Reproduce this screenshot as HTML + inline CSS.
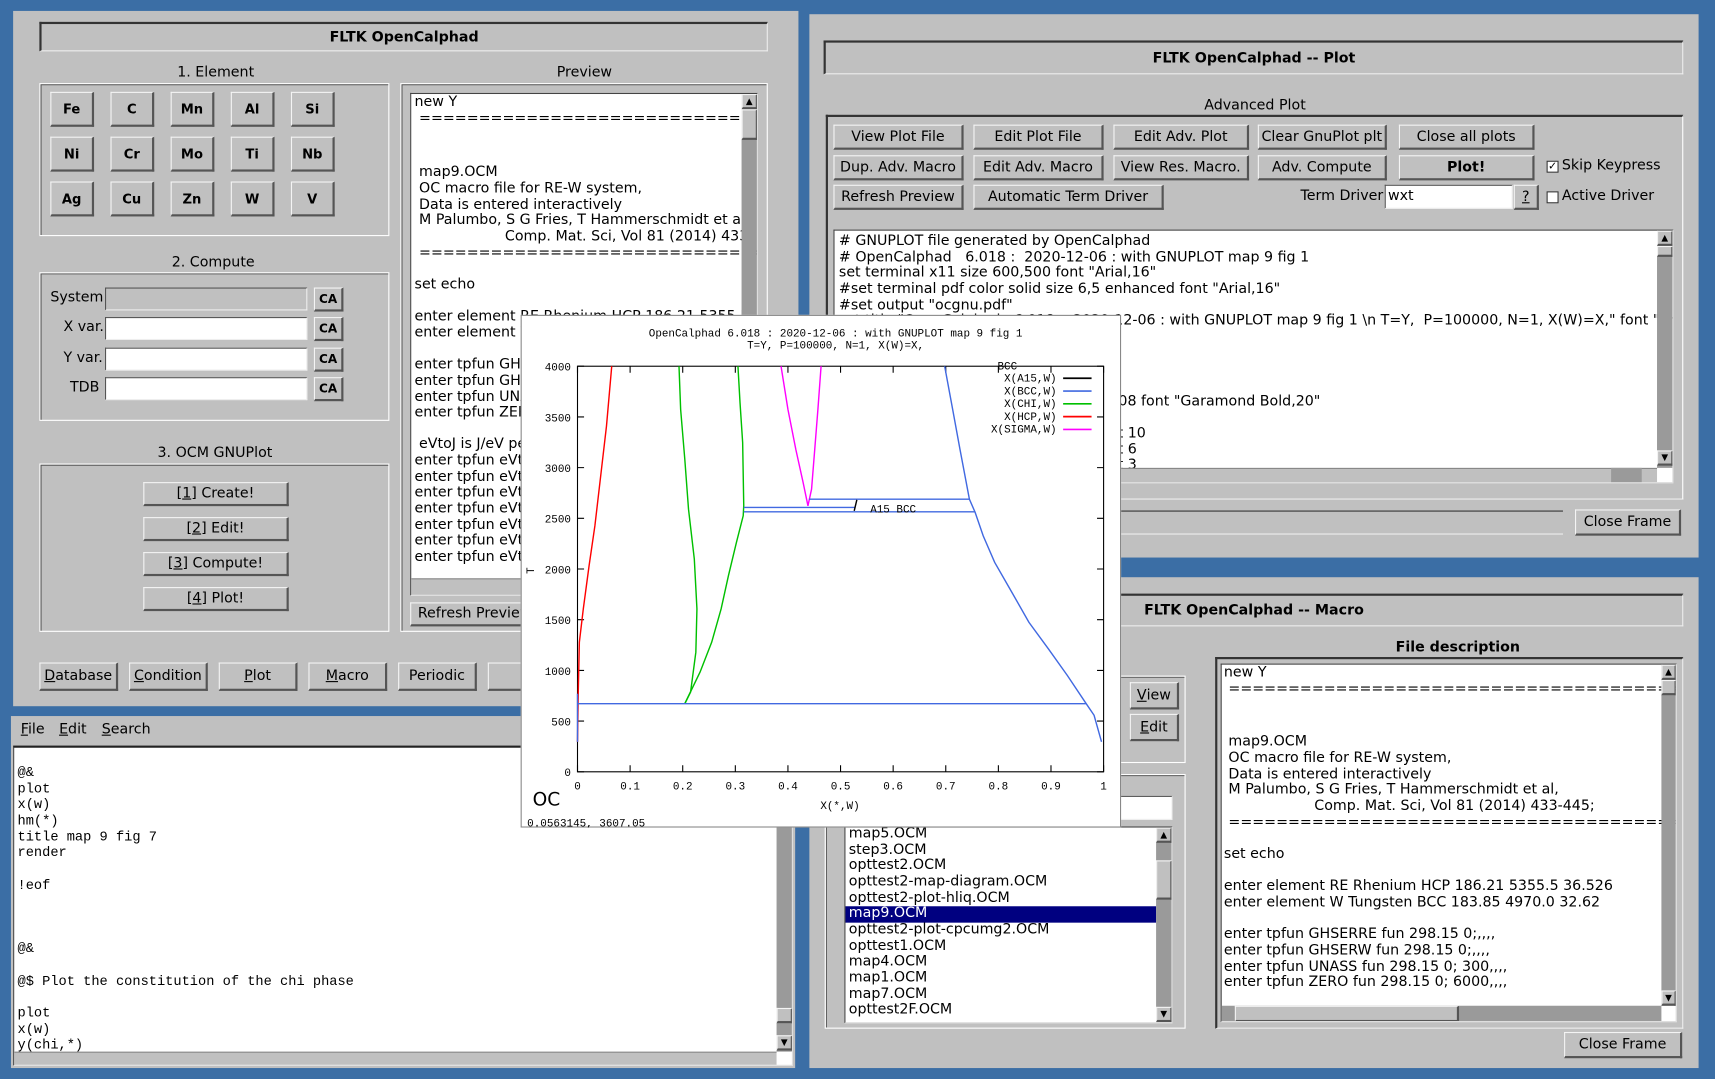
<!DOCTYPE html>
<html><head><meta charset="utf-8">
<style>
html,body{margin:0;padding:0;width:1715px;height:1079px;overflow:hidden;background:#3b6ea5;}
#root{position:absolute;left:0;top:0;width:1568px;height:987px;transform:scale(1.09375,1.0932);transform-origin:0 0;font-family:"DejaVu Sans","Liberation Sans",sans-serif;font-size:13px;color:#000;}
.a{position:absolute;box-sizing:border-box;}
.win{background:#c0c0c0;}
.btn{background:#c0c0c0;border-top:1px solid #f4f4f4;border-left:1px solid #f4f4f4;border-right:2px solid #555;border-bottom:2px solid #555;display:flex;align-items:center;justify-content:center;white-space:nowrap;font-size:13px;}
.grp{border:1px solid #fff;box-shadow:inset 1px 1px 0 #555;}
.box{border-top:2px solid #333;border-left:2px solid #333;border-right:1px solid #eee;border-bottom:1px solid #eee;}
.ta{background:#fff;border-top:1px solid #444;border-left:1px solid #444;border-right:1px solid #ddd;border-bottom:1px solid #ddd;overflow:hidden;}
.ta pre{margin:0;font-family:"DejaVu Sans","Liberation Sans",sans-serif;font-size:13px;line-height:14.65px;white-space:pre;}
.mono pre{font-family:"Liberation Mono","DejaVu Sans Mono",monospace;font-size:12.5px;}
.sb{background:#9a9a9a;}
.lbl{position:absolute;white-space:nowrap;}
.b{font-weight:bold;}
.inp{background:#fff;border-top:1px solid #555;border-left:1px solid #555;border-right:1px solid #eee;border-bottom:1px solid #eee;}
u{text-decoration:underline;}
.chk{position:absolute;width:11px;height:11px;background:#fff;border:1px solid #333;box-sizing:border-box;font-size:10px;line-height:9px;text-align:center;}
</style></head>
<body>
<div id="root">

<!-- MAIN WINDOW -->
<div class="a win" style="left:12px;top:10px;width:718px;height:636px;">
  <div class="a box" style="left:24px;top:10px;width:666px;height:27px;display:flex;align-items:center;justify-content:center;"><span class="b" style="font-size:13px;">FLTK OpenCalphad</span></div>
  <div class="lbl" style="left:150px;top:49px;">1. Element</div>
  <div class="a grp" style="left:24px;top:66px;width:320px;height:140px;"></div>
  <div class="lbl" style="left:145px;top:223px;">2. Compute</div>
  <div class="a grp" style="left:24px;top:239px;width:320px;height:136px;"></div>
  <div class="lbl" style="left:132px;top:397px;">3. OCM GNUPlot</div>
  <div class="a grp" style="left:24px;top:414px;width:320px;height:154px;"></div>
  <div class="lbl" style="left:497px;top:49px;">Preview</div>
  <div class="a grp" style="left:354px;top:66px;width:336px;height:502px;"></div>
</div>
<div class="lbl" style="left:46px;top:265px;">System</div>
<div class="a inp" style="left:96px;top:263px;width:185px;height:21px;background:#c0c0c0;"></div>
<div class="a btn b" style="left:287px;top:263px;width:27px;height:22px;font-size:11px;">CA</div>
<div class="lbl" style="left:58px;top:292px;">X var.</div>
<div class="a inp" style="left:96px;top:290px;width:185px;height:21px;"></div>
<div class="a btn b" style="left:287px;top:290px;width:27px;height:22px;font-size:11px;">CA</div>
<div class="lbl" style="left:58px;top:320px;">Y var.</div>
<div class="a inp" style="left:96px;top:318px;width:185px;height:21px;"></div>
<div class="a btn b" style="left:287px;top:318px;width:27px;height:22px;font-size:11px;">CA</div>
<div class="lbl" style="left:64px;top:347px;">TDB</div>
<div class="a inp" style="left:96px;top:345px;width:185px;height:21px;"></div>
<div class="a btn b" style="left:287px;top:345px;width:27px;height:22px;font-size:11px;">CA</div>

<div class="a btn" style="left:131px;top:441px;width:133px;height:22px;">[<u>1</u>] Create!</div>
<div class="a btn" style="left:131px;top:473px;width:133px;height:22px;">[<u>2</u>] Edit!</div>
<div class="a btn" style="left:131px;top:505px;width:133px;height:22px;">[<u>3</u>] Compute!</div>
<div class="a btn" style="left:131px;top:537px;width:133px;height:22px;">[<u>4</u>] Plot!</div>

<div class="a ta" style="left:375px;top:85px;width:318px;height:460px;">
<pre style="padding:1px 0 0 3px;">new Y
 ==============================</pre>
<pre style="padding:35px 0 0 3px;"> map9.OCM
 OC macro file for RE-W system,
 Data is entered interactively
 M Palumbo, S G Fries, T Hammerschmidt et al,
                    Comp. Mat. Sci, Vol 81 (2014) 433
 ==============================

set echo

enter element RE Rhenium HCP 186.21 5355.5
enter element W Tungsten BCC

enter tpfun GHSERRE
enter tpfun GHSERW
enter tpfun UNASS
enter tpfun ZERO

 eVtoJ is J/eV per
enter tpfun eVtoJ
enter tpfun eVtoJ
enter tpfun eVtoJ
enter tpfun eVtoJ
enter tpfun eVtoJ
enter tpfun eVtoJ
enter tpfun eVtoJ</pre>
<div class="a sb" style="left:302px;top:0;width:15px;height:460px;"></div>
<div class="a btn" style="left:302px;top:0;width:15px;height:14px;font-size:8px;">▲</div>
<div class="a btn" style="left:302px;top:14px;width:15px;height:28px;"></div>
<div class="a" style="left:0;top:443px;width:302px;height:17px;background:#c0c0c0;border-top:1px solid #888;"></div>
</div>
<div class="a btn" style="left:375px;top:551px;width:120px;height:22px;justify-content:flex-start;padding-left:6px;">Refresh Preview</div>

<div class="a btn" style="left:36px;top:606px;width:72px;height:26px;"><u>D</u>atabase</div>
<div class="a btn" style="left:118px;top:606px;width:72px;height:26px;"><u>C</u>ondition</div>
<div class="a btn" style="left:200px;top:606px;width:72px;height:26px;"><u>P</u>lot</div>
<div class="a btn" style="left:282px;top:606px;width:72px;height:26px;"><u>M</u>acro</div>
<div class="a btn" style="left:364px;top:606px;width:72px;height:26px;">Periodic</div>
<div class="a btn" style="left:446px;top:606px;width:72px;height:26px;"></div>

<!-- EDITOR WINDOW -->
<div class="a win" style="left:10px;top:655px;width:717px;height:322px;">
  <div class="lbl" style="left:9px;top:5px;"><u>F</u>ile</div>
  <div class="lbl" style="left:44px;top:5px;"><u>E</u>dit</div>
  <div class="lbl" style="left:83px;top:5px;"><u>S</u>earch</div>
  <div class="a ta mono" style="left:2px;top:27px;width:713px;height:293px;border-top:2px solid #222;">
<pre style="padding:16px 0 0 3px;line-height:14.65px;">
@&amp;
plot
x(w)
hm(*)
title map 9 fig 7
render

!eof



@&amp;

@$ Plot the constitution of the chi phase

plot
x(w)
y(chi,*)</pre>
  <div class="a sb" style="left:697px;top:0;width:15px;height:278px;"></div>
  <div class="a btn" style="left:697px;top:238px;width:15px;height:14px;"></div>
  <div class="a btn" style="left:697px;top:263px;width:15px;height:14px;font-size:8px;">▼</div>
  <div class="a" style="left:0;top:278px;width:697px;height:14px;background:#c0c0c0;border-top:1px solid #888;"></div>
  </div>
</div>

<!-- PLOT FRAME WINDOW -->
<div class="a win" style="left:740px;top:13px;width:813px;height:497px;">
  <div class="a box" style="left:13px;top:24px;width:786px;height:31px;display:flex;align-items:center;justify-content:center;"><span class="b">FLTK OpenCalphad -- Plot</span></div>
  <div class="lbl" style="left:361px;top:76px;">Advanced Plot</div>
  <div class="a box" style="left:15px;top:92px;width:784px;height:352px;border-right:1px solid #fff;"></div>
  <div class="a" style="left:285px;top:454px;width:404px;height:22px;border-top:1px solid #333;border-bottom:1px solid #eee;"></div>
  <div class="a btn" style="left:700px;top:453px;width:97px;height:24px;">Close Frame</div>
</div>
<div class="a btn" style="left:762px;top:114px;width:119px;height:23px;">View Plot File</div>
<div class="a btn" style="left:890px;top:114px;width:119px;height:23px;">Edit Plot File</div>
<div class="a btn" style="left:1018px;top:114px;width:124px;height:23px;">Edit Adv. Plot</div>
<div class="a btn" style="left:1150px;top:114px;width:118px;height:23px;">Clear GnuPlot plt</div>
<div class="a btn" style="left:1279px;top:114px;width:124px;height:23px;">Close all plots</div>
<div class="a btn" style="left:762px;top:142px;width:119px;height:23px;">Dup. Adv. Macro</div>
<div class="a btn" style="left:890px;top:142px;width:119px;height:23px;">Edit Adv. Macro</div>
<div class="a btn" style="left:1018px;top:142px;width:124px;height:23px;">View Res. Macro.</div>
<div class="a btn" style="left:1150px;top:142px;width:118px;height:23px;">Adv. Compute</div>
<div class="a btn b" style="left:1279px;top:142px;width:124px;height:23px;">Plot!</div>
<div class="chk" style="left:1414px;top:147px;">✓</div>
<div class="lbl" style="left:1428px;top:144px;">Skip Keypress</div>
<div class="a btn" style="left:762px;top:169px;width:119px;height:23px;">Refresh Preview</div>
<div class="a btn" style="left:890px;top:169px;width:174px;height:23px;">Automatic Term Driver</div>
<div class="lbl" style="left:1189px;top:172px;">Term Driver</div>
<div class="a inp" style="left:1266px;top:169px;width:117px;height:22px;padding-left:2px;line-height:20px;">wxt</div>
<div class="a btn" style="left:1384px;top:169px;width:23px;height:23px;"><u>?</u></div>
<div class="chk" style="left:1414px;top:175px;"></div>
<div class="lbl" style="left:1428px;top:172px;">Active Driver</div>
<div class="a ta" style="left:762px;top:210px;width:768px;height:232px;">
<pre style="padding:3px 0 0 4px;"># GNUPLOT file generated by OpenCalphad
# OpenCalphad   6.018 :  2020-12-06 : with GNUPLOT map 9 fig 1
set terminal x11 size 600,500 font "Arial,16"
#set terminal pdf color solid size 6,5 enhanced font "Arial,16"
#set output "ocgnu.pdf"
set title "OpenCalphad   6.018 :  2020-12-06 : with GNUPLOT map 9 fig 1 \n T=Y,  P=100000, N=1, X(W)=X," font "Arial,




set label "OC" at graph -0.08, graph -0.08 font "Garamond Bold,20"

set style line 1 lt 1 lw 2 lc rgb "black" pt 10
set style line 2 lt 1 lw 2 lc rgb "black" pt 6
set style line 3 lt 1 lw 2 lc rgb "black" pt 3</pre>
<div class="a sb" style="left:752px;top:0;width:15px;height:217px;"></div>
<div class="a btn" style="left:752px;top:0;width:15px;height:14px;font-size:8px;">▲</div>
<div class="a btn" style="left:752px;top:14px;width:15px;height:10px;"></div>
<div class="a btn" style="left:752px;top:201px;width:15px;height:14px;font-size:8px;">▼</div>
<div class="a" style="left:0;top:217px;width:752px;height:15px;background:#c0c0c0;border-top:1px solid #888;"></div>
<div class="a sb" style="left:710px;top:217px;width:28px;height:15px;"></div>
</div>

<!-- MACRO WINDOW -->
<div class="a win" style="left:740px;top:528px;width:813px;height:449px;">
  <div class="a box" style="left:13px;top:15px;width:786px;height:30px;display:flex;align-items:center;justify-content:center;"><span class="b">FLTK OpenCalphad -- Macro</span></div>
  <div class="lbl b" style="left:536px;top:57px;">File description</div>
  <div class="a box" style="left:371px;top:73px;width:428px;height:340px;"></div>
  <div class="a grp" style="left:14px;top:180px;width:330px;height:233px;"></div>
  <div class="a grp" style="left:14px;top:90px;width:330px;height:80px;"></div>
  <div class="a btn" style="left:690px;top:416px;width:108px;height:24px;">Close Frame</div>
</div>
<div class="a btn" style="left:1033px;top:624px;width:45px;height:25px;"><u>V</u>iew</div>
<div class="a btn" style="left:1033px;top:653px;width:45px;height:25px;"><u>E</u>dit</div>
<div class="a inp" style="left:1000px;top:728px;width:72px;height:22px;"></div>
<div class="a ta" style="left:772px;top:756px;width:300px;height:180px;">
<div class="a" style="left:0;top:72px;width:284px;height:15px;background:#000080;"></div>
<pre style="position:absolute;left:3px;top:-1px;">map5.OCM
step3.OCM
opttest2.OCM
opttest2-map-diagram.OCM
opttest2-plot-hliq.OCM
<span style="color:#fff">map9.OCM</span>
opttest2-plot-cpcumg2.OCM
opttest1.OCM
map4.OCM
map1.OCM
map7.OCM
opttest2F.OCM</pre>
<div class="a sb" style="left:284px;top:0;width:15px;height:178px;"></div>
<div class="a btn" style="left:284px;top:0;width:15px;height:14px;font-size:8px;">▲</div>
<div class="a btn" style="left:284px;top:30px;width:15px;height:36px;"></div>
<div class="a btn" style="left:284px;top:164px;width:15px;height:14px;font-size:8px;">▼</div>
</div>
<div class="a ta" style="left:1116px;top:607px;width:417px;height:328px;">
<pre style="padding:1px 0 0 2px;">new Y
 =========================================</pre>
<pre style="padding:34px 0 0 2px;"> map9.OCM
 OC macro file for RE-W system,
 Data is entered interactively
 M Palumbo, S G Fries, T Hammerschmidt et al,
                    Comp. Mat. Sci, Vol 81 (2014) 433-445;
 =========================================

set echo

enter element RE Rhenium HCP 186.21 5355.5 36.526
enter element W Tungsten BCC 183.85 4970.0 32.62

enter tpfun GHSERRE fun 298.15 0;,,,,
enter tpfun GHSERW fun 298.15 0;,,,,
enter tpfun UNASS fun 298.15 0; 300,,,,
enter tpfun ZERO fun 298.15 0; 6000,,,,</pre>
<div class="a sb" style="left:402px;top:0;width:14px;height:312px;"></div>
<div class="a btn" style="left:402px;top:0;width:14px;height:14px;font-size:8px;">▲</div>
<div class="a btn" style="left:402px;top:14px;width:14px;height:14px;"></div>
<div class="a btn" style="left:402px;top:298px;width:14px;height:14px;font-size:8px;">▼</div>
<div class="a sb" style="left:0;top:312px;width:402px;height:15px;"></div>
<div class="a btn" style="left:12px;top:312px;width:205px;height:15px;"></div>
</div>

<!-- GNUPLOT WINDOW -->
<div class="a" style="left:476px;top:288px;width:549px;height:469px;background:#fff;border:1px solid #888;">
<svg id="chart" width="549" height="469" style="position:absolute;left:-1px;top:-1px;"></svg>
</div>

</div>
<script>
// element buttons
(function(){
  var els=[["Fe","C","Mn","Al","Si"],["Ni","Cr","Mo","Ti","Nb"],["Ag","Cu","Zn","W","V"]];
  var host=document.getElementById('root');
  for(var r=0;r<3;r++)for(var c=0;c<5;c++){
    var d=document.createElement('div');
    d.className='a btn b';
    d.style.cssText='left:'+(46+c*55)+'px;top:'+(84+r*41)+'px;width:40px;height:32px;font-size:12px;';
    d.textContent=els[r][c];
    
    
    host.appendChild(d);
  }
})();

// ---- chart data ----
var xTicks=[0,0.1,0.2,0.3,0.4,0.5,0.6,0.7,0.8,0.9,1];
var xTickLabels=["0","0.1","0.2","0.3","0.4","0.5","0.6","0.7","0.8","0.9","1"];
var yTicks=[0,500,1000,1500,2000,2500,3000,3500,4000];
var hcpX=[0,0.0015,0.0036,0.011,0.022,0.033,0.044,0.055,0.065];
var hcpT=[295,787,1279,1607,2033,2426,2918,3410,4000];
var chiLeftX=[0.204,0.215,0.225,0.227,0.222,0.211,0.204,0.196,0.193];
var chiLeftT=[672,787,1180,1607,2098,2590,3082,3574,4000];
var chiRightX=[0.204,0.233,0.255,0.273,0.287,0.302,0.315,0.316,0.314,0.309,0.305];
var chiRightT=[672,984,1279,1607,1934,2262,2525,2623,3246,3639,4000];
var sigmaX=[0.387,0.400,0.415,0.429,0.438,0.445,0.451,0.457,0.463];
var sigmaT=[4000,3574,3180,2852,2623,2787,3180,3574,4000];
var bccX=[0.698,0.713,0.727,0.745,0.756,0.771,0.793,0.822,0.858,0.895,0.931,0.967,0.982,0.996];
var bccT=[4000,3574,3180,2689,2557,2328,2066,1803,1475,1213,951,672,557,295];
var bccLeftX=[0,0];
var bccLeftT=[295,770];
var a15X=[0.526,0.531];
var a15T=[2574,2682];
var tieT=[672,2689,2607,2564];
var tieX1=[0,0.440,0.316,0.316];
var tieX2=[0.967,0.745,0.527,0.756];
var legendNames=["X(A15,W)","X(BCC,W)","X(CHI,W)","X(HCP,W)","X(SIGMA,W)"];
var legendColors=["#000000","#4169e1","#00c000","#ff0000","#ff00ff"];

var PX0=52,PX1=533,PY0=418,PY1=47;
function sx(v){return PX0+(PX1-PX0)*v;}
function sy(t){return PY0-(PY0-PY1)*t/4000;}
var svg=document.getElementById('chart');
var NS='http://www.w3.org/2000/svg';
function mk(tag,attrs,name){var e=document.createElementNS(NS,tag);for(var k in attrs)e.setAttribute(k,attrs[k]);
  
  
  svg.appendChild(e);return e;}
function txt(x,y,s,anchor,size,name){var t=mk('text',{x:x,y:y,'text-anchor':anchor||'start','font-family':'Liberation Mono, DejaVu Sans Mono, monospace','font-size':size||10},name);t.textContent=s;return t;}

txt(288,20,"OpenCalphad   6.018 :  2020-12-06 : with GNUPLOT map 9 fig 1","middle",10,"chart-title");
txt(288,31,"T=Y,  P=100000, N=1, X(W)=X,","middle",10,"chart-subtitle");

mk('rect',{x:PX0,y:PY1,width:PX1-PX0,height:PY0-PY1,fill:'none',stroke:'#000','stroke-width':1},'plot-frame');
xTicks.forEach(function(v,i){
  mk('line',{x1:sx(v),x2:sx(v),y1:PY0,y2:PY0-6,stroke:'#000'},'x-tick');
  mk('line',{x1:sx(v),x2:sx(v),y1:PY1,y2:PY1+6,stroke:'#000'},'x-tick-top');
  txt(sx(v),434,xTickLabels[i],'middle',10,'x-tick-label');
});
yTicks.forEach(function(v){
  mk('line',{x1:PX0,x2:PX0+6,y1:sy(v),y2:sy(v),stroke:'#000'},'y-tick');
  mk('line',{x1:PX1,x2:PX1-6,y1:sy(v),y2:sy(v),stroke:'#000'},'y-tick-right');
  txt(46,sy(v)+4,String(v),'end',10,'y-tick-label');
});
var yl=txt(0,0,"T","middle",10,"y-axis-title");yl.setAttribute('transform','translate(12,234) rotate(-90)');
txt(292,452,"X(*,W)","middle",10,"x-axis-title");
var oc=mk('text',{x:11,y:449,'font-family':'DejaVu Sans, Liberation Sans, sans-serif','font-size':17},'oc-label');oc.textContent="OC";
txt(6,468,"0.0563145,  3607.05","start",10,"cursor-coordinates");

function series(xs,ts,color,name){
  var pts=xs.map(function(x,i){return sx(x).toFixed(1)+','+sy(ts[i]).toFixed(1);}).join(' ');
  mk('polyline',{points:pts,fill:'none',stroke:color,'stroke-width':1.3},name);
}
series(hcpX,hcpT,legendColors[3],'hcp-line');
series(chiLeftX,chiLeftT,legendColors[2],'chi-left-line');
series(chiRightX,chiRightT,legendColors[2],'chi-right-line');
series(sigmaX,sigmaT,legendColors[4],'sigma-line');
series(bccX,bccT,legendColors[1],'bcc-line');
series(bccLeftX,bccLeftT,legendColors[1],'bcc-left-line');
tieT.forEach(function(t,i){
  mk('line',{x1:sx(tieX1[i]),x2:sx(tieX2[i]),y1:sy(t),y2:sy(t),stroke:legendColors[1],'stroke-width':1.3},'tie-line');
});
series(a15X,a15T,legendColors[0],'a15-line');
txt(sx(0.6),sy(2600)+4,"A15 BCC","middle",10,"a15-bcc-label");
txt(436,50,"BCC","start",10,"bcc-label");
legendNames.forEach(function(n,i){
  var y=58+i*11.7;
  txt(490,y+3,n,'end',10,'legend-label');
  mk('line',{x1:496,x2:522,y1:y,y2:y,stroke:legendColors[i],'stroke-width':1.5},'legend-swatch');
});
</script>
</body></html>
